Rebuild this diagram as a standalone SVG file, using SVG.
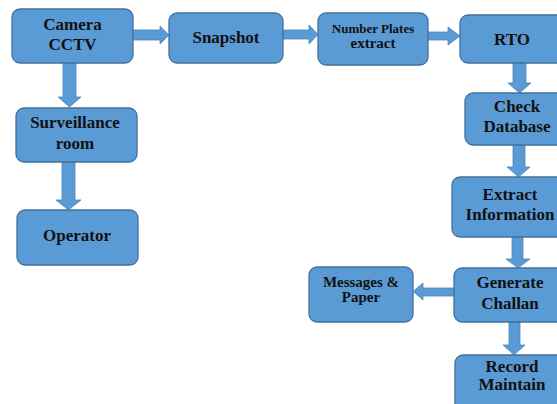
<svg xmlns="http://www.w3.org/2000/svg" width="557" height="404" viewBox="0 0 557 404">
<style>
.box{fill:#5B9BD5;stroke:#41719C;stroke-width:1.3}
.arr{fill:#5B9BD5;stroke:#4A86BE;stroke-width:0.8}
text{font-family:"Liberation Serif","Times New Roman",serif;font-weight:bold;font-size:17px;fill:#111;text-anchor:middle}
.sm{font-size:13px}
.md{font-size:15px}
</style>
<rect width="557" height="404" fill="#fff"/>
<g id="connectors">
<polygon class="arr" points="133,30 160,30 160,26 169,35 160,44 160,40 133,40"/>
<polygon class="arr" points="283,30 309,30 309,25 318,34.5 309,44 309,39 283,39"/>
<polygon class="arr" points="428,32 448,32 448,27 460,36 448,45 448,40 428,40"/>
<polygon class="arr" points="63,63 76,63 76,97 81,97 69.5,107 58,97 63,97"/>
<polygon class="arr" points="62,162 75,162 75,200 81,200 68.5,210 56,200 62,200"/>
<polygon class="arr" points="513,63 526,63 526,83 531,83 519.5,93 508,83 513,83"/>
<polygon class="arr" points="513,145 525,145 525,167 530,167 518.5,177 507,167 513,167"/>
<polygon class="arr" points="512,237 523,237 523,259 530,259 518,268 506,259 512,259"/>
<polygon class="arr" points="454,288 423,288 423,283 413,291.5 423,300 423,296 454,296"/>
<polygon class="arr" points="509,322 520,322 520,345 525,345 514,355 503,345 509,345"/>
</g>
<g id="camera"><rect class="box" x="12" y="9" width="121" height="54" rx="8"/><text x="72.5" y="30">Camera</text><text x="72.5" y="50">CCTV</text></g>
<g id="snapshot"><rect class="box" x="169" y="13" width="114" height="50" rx="8"/><text x="226" y="43">Snapshot</text></g>
<g id="numberplates"><rect class="box" x="318" y="13" width="110" height="52" rx="8"/><text class="sm" x="373" y="33">Number Plates</text><text class="md" x="373" y="48">extract</text></g>
<g id="rto"><rect class="box" x="460" y="15" width="106" height="48" rx="8"/><text x="512" y="45">RTO</text></g>
<g id="surveillance"><rect class="box" x="16" y="108" width="121" height="54" rx="8"/><text x="75" y="128">Surveillance</text><text x="75" y="149">room</text></g>
<g id="operator"><rect class="box" x="17" y="210" width="121" height="55" rx="8"/><text x="77" y="241">Operator</text></g>
<g id="checkdb"><rect class="box" x="465" y="93" width="104" height="52" rx="8"/><text x="517" y="112">Check</text><text x="517" y="132">Database</text></g>
<g id="extract"><rect class="box" x="452" y="177" width="116" height="60" rx="8"/><text x="510" y="200">Extract</text><text x="510" y="220">Information</text></g>
<g id="generate"><rect class="box" x="454" y="268" width="112" height="54" rx="8"/><text x="510" y="288">Generate</text><text x="510" y="309">Challan</text></g>
<g id="messages"><rect class="box" x="309" y="267" width="104" height="55" rx="8"/><text class="md" x="361" y="287">Messages &amp;</text><text class="md" x="361" y="302">Paper</text></g>
<g id="record"><rect class="box" x="455" y="355" width="114" height="60" rx="8"/><text x="512" y="372">Record</text><text x="512" y="390">Maintain</text></g>
</svg>
